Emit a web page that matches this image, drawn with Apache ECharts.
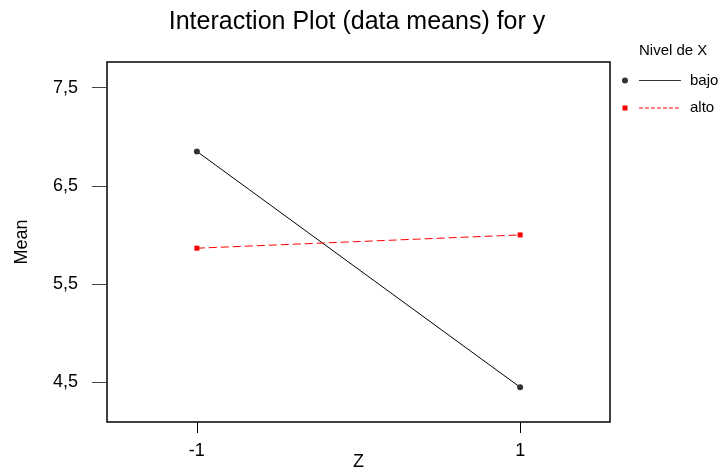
<!DOCTYPE html>
<html>
<head>
<meta charset="utf-8">
<script src="https://cdn.jsdelivr.net/npm/echarts@6/dist/echarts.min.js"></script>
<style>html,body{margin:0;padding:0;background:#fff}#c{width:720px;height:472px}</style>
</head>
<body>
<div id="c"></div>
<script>
const zLevels = [-1, 1];
const bajo = [6.85, 4.45];
const alto = [5.865, 6.0];
const yTicks = [4.5, 5.5, 6.5, 7.5];
const xTicks = [-1, 1];
const seriesNames = ['bajo', 'alto'];

const FONT = '"Liberation Sans", Arial, sans-serif';
const chart = echarts.init(document.getElementById('c'));
const fmt = v => Number(v).toFixed(1).replace('.', ',');

chart.setOption({
  animation: false,
  backgroundColor: '#fff',
  title: [
    { text: 'Interaction Plot (data means) for y', left: 357, textAlign: 'center', top: 10, padding: 0,
      textStyle: { fontFamily: FONT, fontSize: 25, fontWeight: 'normal', color: '#000' } },
    { text: 'Nivel de X', left: 639, top: 43, padding: 0,
      textStyle: { fontFamily: FONT, fontSize: 15, fontWeight: 'normal', color: '#000' } }
  ],
  legend: {
    orient: 'vertical', left: 622, top: 73, itemGap: 12, padding: 0,
    itemWidth: 63, itemHeight: 8,
    textStyle: { fontFamily: FONT, fontSize: 15, color: '#000' },
    data: [
      { name: seriesNames[0], icon: 'path://M0,4a3,3 0 1,0 6,0a3,3 0 1,0 -6,0Z M17,3.5H59V4.5H17Z M0,0H0.01V0.01H0Z M0,8H0.01V8.01H0Z M63,0H63.01V0.01H63Z' },
      { name: seriesNames[1], icon: 'path://M0.5,2H5.5V7H0.5Z M17,4H21V5H17Z M23,4H27V5H23Z M29,4H33V5H29Z M35,4H39V5H35Z M41,4H45V5H41Z M47,4H51V5H47Z M53,4H57V5H53Z M0,0H0.01V0.01H0Z M0,8H0.01V8.01H0Z M63,0H63.01V0.01H63Z' }
    ]
  },
  grid: { left: 107, right: 110, top: 62, bottom: 50, outerBoundsMode: 'none', containLabel: false,
    show: true, borderColor: '#000', borderWidth: 1.5, backgroundColor: 'transparent' },
  xAxis: {
    type: 'value', min: -1.556, max: 1.556,
    name: 'Z', nameLocation: 'middle', nameGap: 31, nameMoveOverlap: false,
    nameTextStyle: { fontFamily: FONT, fontSize: 18, color: '#000' },
    axisLine: { show: false, onZero: false },
    splitLine: { show: false },
    axisTick: { show: true, inside: false, length: 11, customValues: xTicks, lineStyle: { color: '#000', width: 1 } },
    axisLabel: { show: true, customValues: xTicks, margin: 20, fontFamily: FONT, fontSize: 18, color: '#000' }
  },
  yAxis: {
    type: 'value', min: 4.096, max: 7.76,
    name: 'Mean', nameLocation: 'middle', nameGap: 76, nameRotate: 90, nameMoveOverlap: false,
    nameTextStyle: { fontFamily: FONT, fontSize: 18, color: '#000' },
    axisLine: { show: false, onZero: false },
    splitLine: { show: false },
    axisTick: { show: true, inside: false, length: 15, customValues: yTicks, lineStyle: { color: '#444', width: 1 } },
    axisLabel: { show: true, customValues: yTicks, margin: 29, fontFamily: FONT, fontSize: 18, color: '#000', formatter: fmt }
  },
  series: [
    { name: seriesNames[0], type: 'line', data: zLevels.map((z, i) => [z, bajo[i]]),
      symbol: 'circle', symbolSize: 6, showSymbol: true,
      itemStyle: { color: '#333' }, lineStyle: { color: '#000', width: 1 } },
    { name: seriesNames[1], type: 'line', data: zLevels.map((z, i) => [z, alto[i]]),
      symbol: 'rect', symbolSize: 5, showSymbol: true,
      itemStyle: { color: '#f00' }, lineStyle: { color: '#f00', width: 1, type: [8, 4] } }
  ]
});
</script>
</body>
</html>
